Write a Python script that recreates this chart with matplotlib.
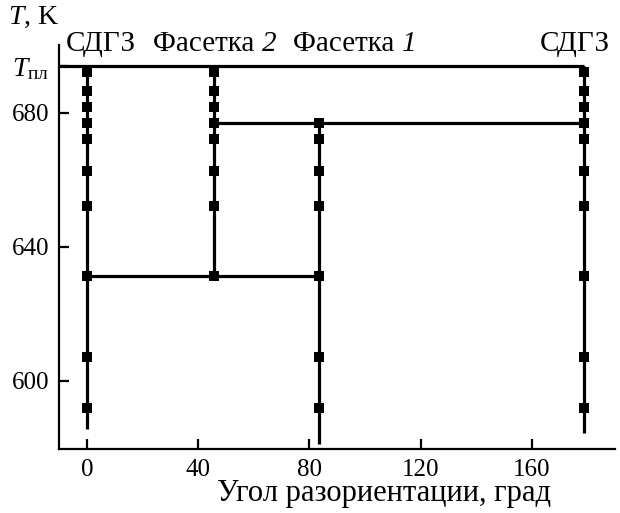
import matplotlib
matplotlib.use("Agg")
import matplotlib.pyplot as plt

plt.rcParams["font.family"] = ["Liberation Serif", "DejaVu Serif"]
plt.rcParams["mathtext.fontset"] = "custom"
plt.rcParams["mathtext.rm"] = "Liberation Serif"
plt.rcParams["mathtext.it"] = "Liberation Serif:italic"

# Melting temperature, K
t_melt = 694.0

# Boundary types (misorientation angle, deg) and their labels: (upright part, italic part)
col_angles = [0.0, 45.5, 83.6, 179.0]
col_labels = [("СДГЗ", ""), ("Фасетка ", "2"), ("Фасетка ", "1"), ("СДГЗ", "")]

# Vertical extent of each boundary branch, K
col_top = [694.0, 694.0, 677.0, 694.0]
col_bottom = [585.6, 631.3, 581.3, 584.5]

# Measured temperatures, K
temps_gb0 = [692.2, 686.6, 681.8, 677.0, 672.1, 662.7, 652.2, 631.3, 607.2, 591.8]
temps_f2 = [692.2, 686.6, 681.8, 677.0, 672.1, 662.7, 652.2, 631.3]
temps_f1 = [677.0, 672.1, 662.7, 652.2, 631.3, 607.2, 591.8]
temps_gb180 = [692.2, 686.6, 681.8, 677.0, 672.1, 662.7, 652.2, 631.3, 607.2, 591.8]

# Transition lines: temperature, start angle, end angle
trans_temps = [677.0, 631.3]
trans_from = [45.5, 0.0]
trans_to = [179.0, 83.6]

x_ticks = [0, 40, 80, 120, 160]
y_ticks = [600, 640, 680]
x_lim = (-10, 190)
y_lim = (579.7, 700.2)

W, H = 620, 513
fs_ticks = 18
fs_labels = 21

fig = plt.figure(figsize=(W / 100, H / 100), dpi=100)
ax = fig.add_axes([59.3 / W, (H - 449) / H, (615 - 59.3) / W, (449 - 45) / H])

lw = 2.3
ms = 7.6

# vertical branches
ax.vlines(col_angles, col_bottom, col_top, colors="black", linewidth=lw, zorder=2)

# melting line from the axis to the last branch
ax.hlines(t_melt, x_lim[0], col_angles[-1], colors="black", linewidth=lw, zorder=2)
ax.hlines(trans_temps, trans_from, trans_to, colors="black", linewidth=lw, zorder=2)

for x, temps in zip(col_angles, [temps_gb0, temps_f2, temps_f1, temps_gb180]):
    ax.plot([x] * len(temps), temps, linestyle="none", marker="s",
            markersize=ms, color="black", markeredgewidth=0, zorder=3)

ax.set_xlim(*x_lim)
ax.set_ylim(*y_lim)

ax.spines["top"].set_visible(False)
ax.spines["right"].set_visible(False)
for s in ("left", "bottom"):
    ax.spines[s].set_linewidth(1.6)

ax.set_xticks(x_ticks)
ax.set_xticklabels([str(v) for v in x_ticks])
ax.set_yticks(y_ticks + [t_melt])
ax.set_yticklabels([str(v) for v in y_ticks] + [r"$T_{\mathrm{пл}}$"])
ax.tick_params(axis="both", direction="in", length=7.2, width=1.6, labelsize=fs_ticks)
ax.tick_params(axis="x", pad=7)
ax.tick_params(axis="y", pad=7)
ax.get_yticklabels()[-1].set_fontsize(20)

fig.text(8 / W, 1 - 17 / H, r"$T$, K", fontsize=20, ha="left", va="center")
fig.text(384 / W, 1 - 494 / H, "Угол разориентации, град", fontsize=22,
         ha="center", va="center")

renderer = fig.canvas.get_renderer()
label_left_px = [66, 153, 293, 540]
for px, (plain, ital) in zip(label_left_px, col_labels):
    t = fig.text(px / W, 1 - 51 / H, plain, fontsize=fs_labels, ha="left", va="baseline")
    if ital:
        x1 = t.get_window_extent(renderer).x1
        fig.text(x1 / W, 1 - 51 / H, ital, fontsize=fs_labels, fontstyle="italic",
                 ha="left", va="baseline")

fig.savefig("out.png", dpi=100)
